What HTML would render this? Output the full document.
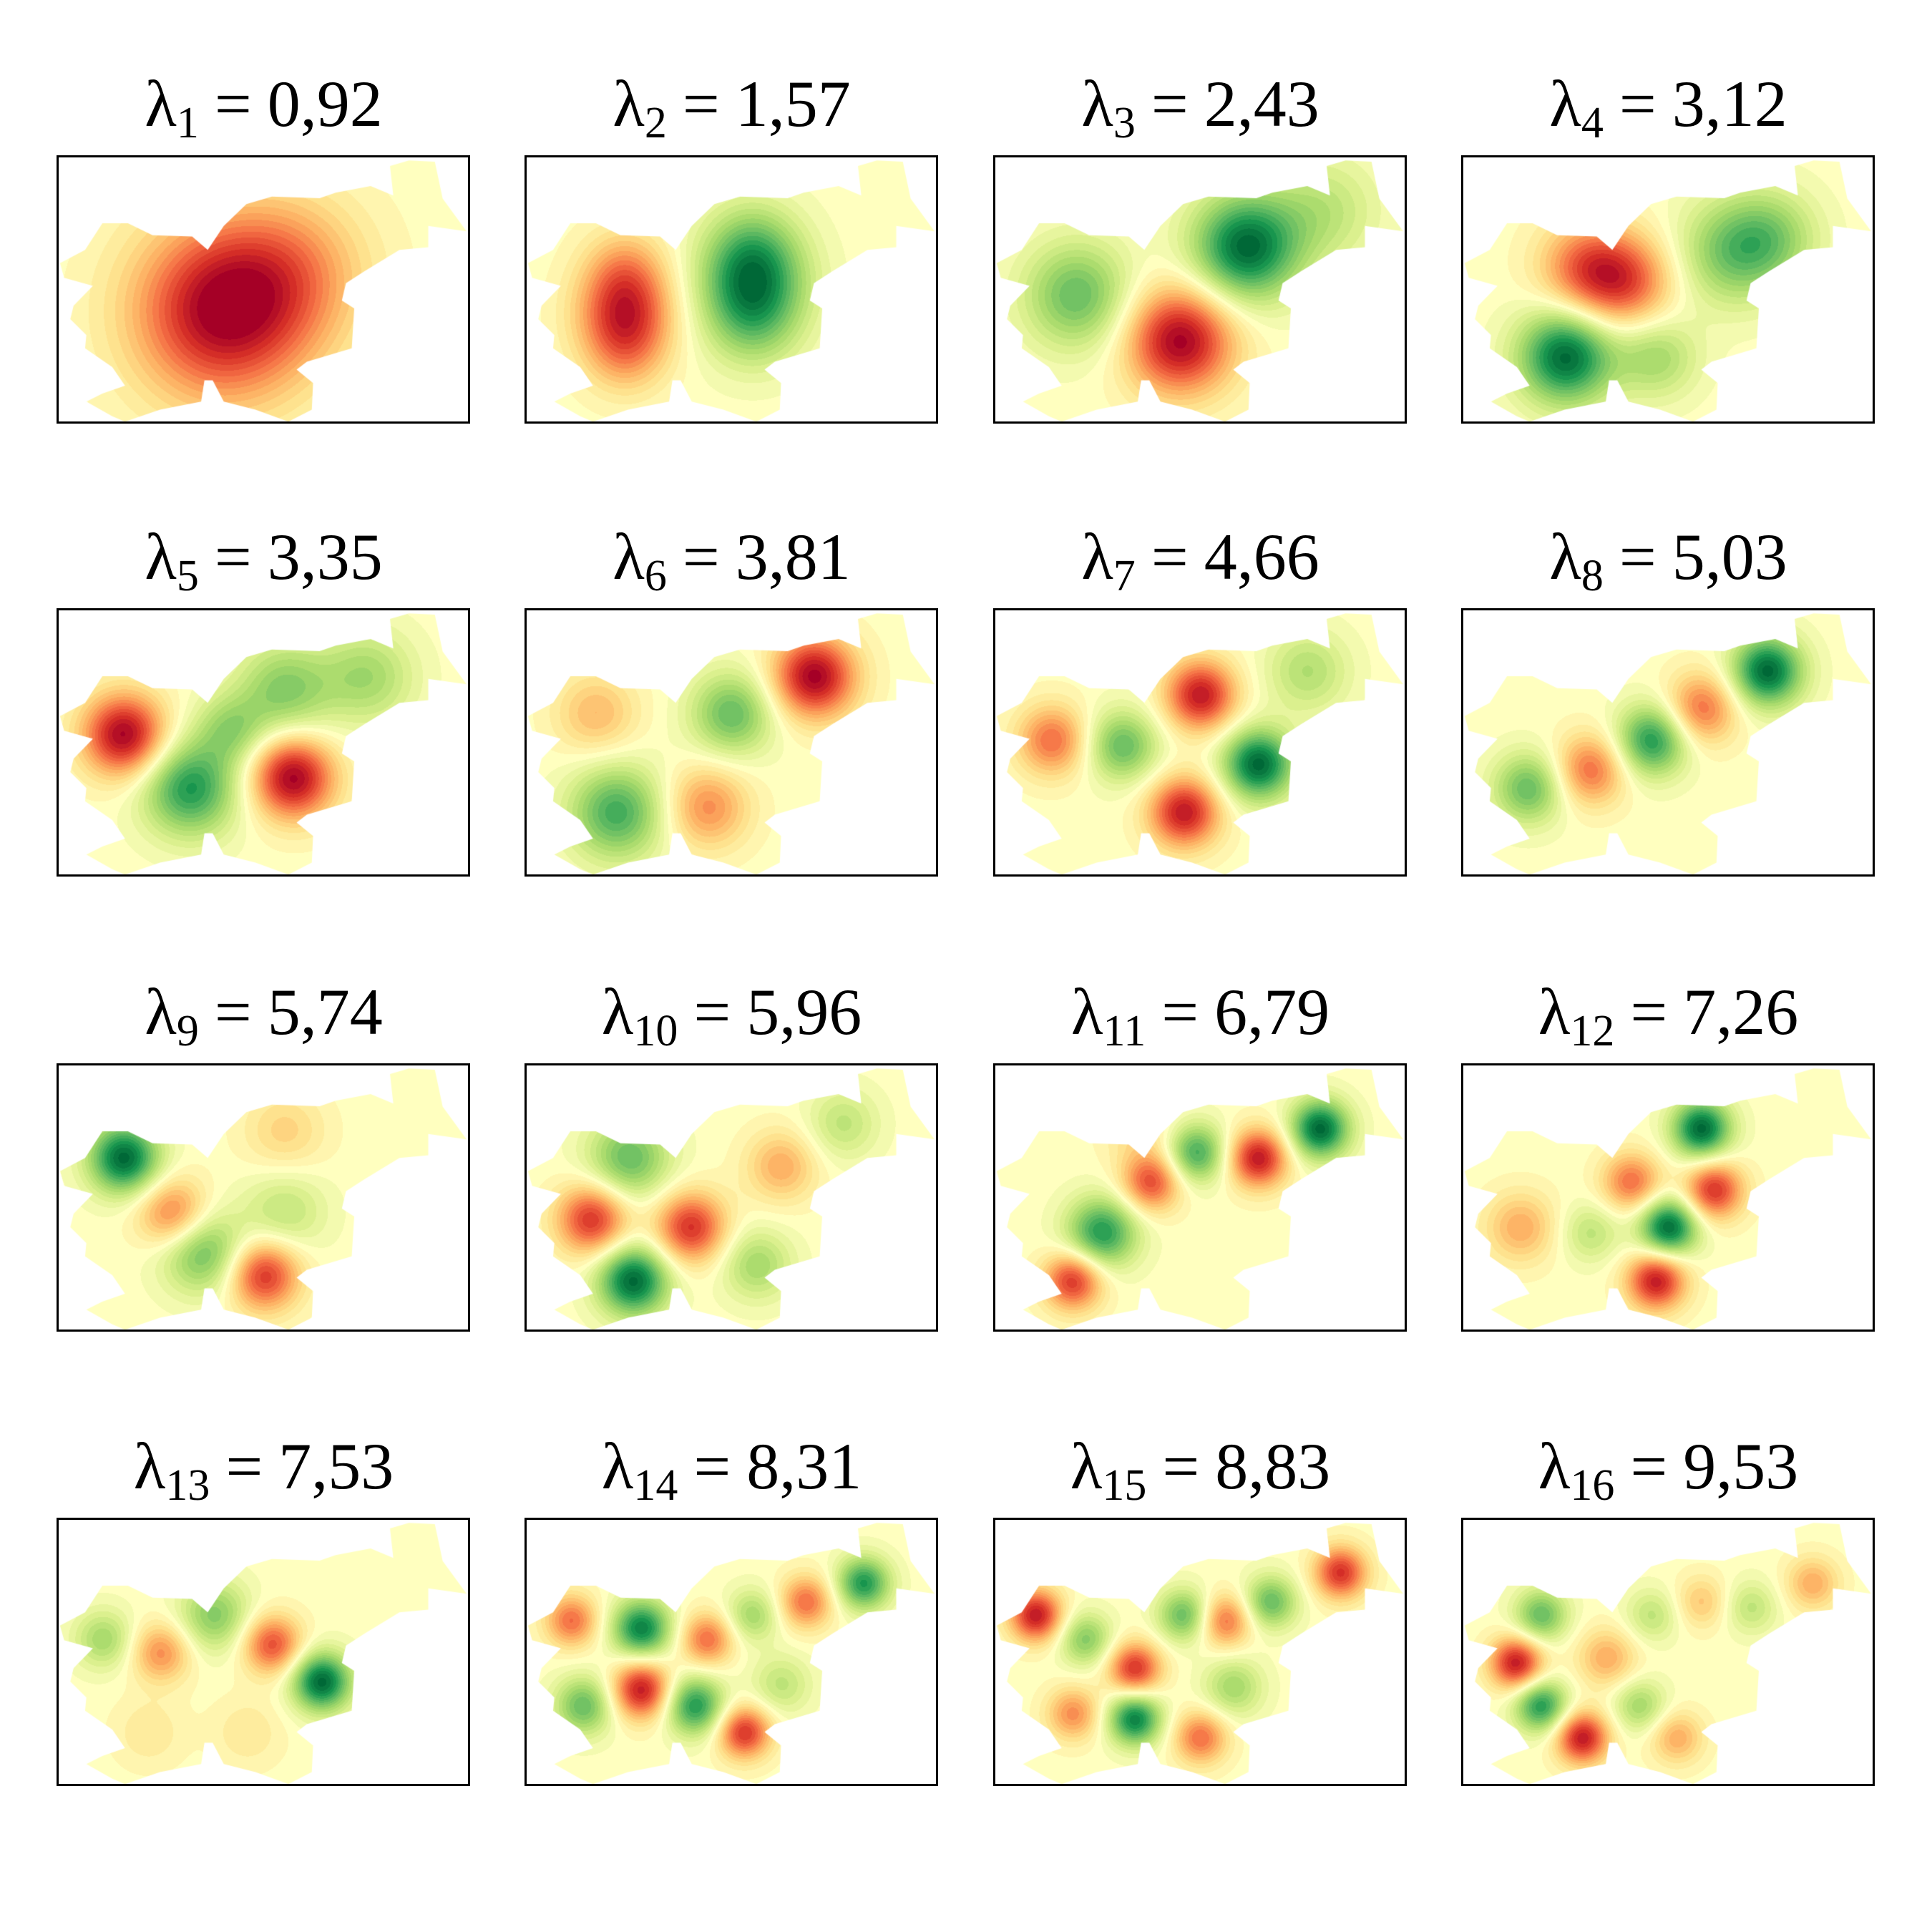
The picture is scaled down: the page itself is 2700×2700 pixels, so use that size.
<!DOCTYPE html>
<html><head><meta charset="utf-8">
<style>
html,body{margin:0;padding:0;background:#fff;}
#fig{position:relative;width:2700px;height:2700px;background:#fff;overflow:hidden;}
.title{position:absolute;width:575px;text-align:center;font-family:"Liberation Serif",serif;font-size:92px;line-height:92px;color:#000;white-space:nowrap;}
.title sub{font-size:62px;vertical-align:-16px;line-height:0;}
.title .eq{margin:0 22px;}
canvas{position:absolute;}
.frame{position:absolute;border:3px solid #000;box-sizing:border-box;width:578px;height:375px;}
</style></head>
<body>
<div id="fig"></div>
<script>
// eigenvalue labels
const eigenIndex = [1,2,3,4,5,6,7,8,9,10,11,12,13,14,15,16];
const eigenValues = ["0,92","1,57","2,43","3,12","3,35","3,81","4,66","5,03","5,74","5,96","6,79","7,26","7,53","8,31","8,83","9,53"];
// per-panel blob data (x,y normalized, amplitude: + red / - green, sigma as width fraction)
const blobX = [
 [0.40,0.57],
 [0.24,0.24,0.24,0.55,0.55,0.55],
 [0.61,0.45,0.20,0.80],
 [0.30,0.40,0.25,0.65,0.47,0.75],
 [0.16,0.32,0.57,0.55,0.75,0.42],
 [0.70,0.50,0.22,0.44,0.17],
 [0.14,0.31,0.50,0.64,0.46,0.76],
 [0.74,0.58,0.46,0.31,0.16],
 [0.16,0.28,0.35,0.50,0.55,0.55],
 [0.25,0.16,0.40,0.26,0.62,0.77,0.56],
 [0.79,0.64,0.49,0.38,0.26,0.19,0.35],
 [0.58,0.61,0.41,0.50,0.47,0.14,0.31],
 [0.64,0.52,0.38,0.25,0.11,0.22,0.46],
 [0.11,0.28,0.28,0.14,0.41,0.44,0.53,0.55,0.68,0.82,0.62],
 [0.10,0.22,0.34,0.34,0.19,0.50,0.46,0.56,0.67,0.84,0.58],
 [0.13,0.19,0.19,0.29,0.35,0.43,0.52,0.46,0.58,0.70,0.85]
];
const blobY = [
 [0.58,0.42],
 [0.59,0.42,0.75,0.48,0.33,0.64],
 [0.34,0.69,0.52,0.20],
 [0.42,0.47,0.75,0.36,0.75,0.30],
 [0.47,0.67,0.63,0.30,0.25,0.45],
 [0.25,0.39,0.76,0.74,0.39],
 [0.49,0.51,0.32,0.58,0.76,0.23],
 [0.23,0.37,0.49,0.60,0.67],
 [0.35,0.56,0.70,0.79,0.55,0.25],
 [0.35,0.58,0.61,0.81,0.38,0.22,0.75],
 [0.24,0.35,0.33,0.44,0.63,0.81,0.25],
 [0.24,0.47,0.44,0.61,0.81,0.61,0.63],
 [0.61,0.47,0.36,0.50,0.45,0.80,0.80],
 [0.38,0.41,0.64,0.70,0.70,0.45,0.80,0.36,0.31,0.24,0.62],
 [0.36,0.45,0.56,0.75,0.73,0.82,0.36,0.38,0.31,0.20,0.63],
 [0.54,0.36,0.70,0.82,0.52,0.70,0.82,0.36,0.31,0.33,0.24]
];
const blobAmp = [
 [1.0,0.35],
 [0.75,0.35,0.3,-0.75,-0.35,-0.3],
 [-1.0,1.0,-0.6,-0.3],
 [0.6,0.6,-1.0,-0.5,-0.4,-0.4],
 [1.0,-0.8,1.0,-0.5,-0.4,-0.4],
 [1.0,-0.6,-0.7,0.5,0.35],
 [0.6,-0.6,0.9,-1.0,0.9,-0.35],
 [-1.0,0.6,-0.8,0.6,-0.6],
 [-1.0,0.6,-0.6,0.8,-0.3,0.25],
 [-0.6,0.8,0.8,-1.0,0.4,-0.3,-0.4],
 [-1.0,0.9,-0.7,0.7,-0.8,0.8,0.2],
 [-1.0,0.8,0.6,-1.0,0.9,0.4,-0.3],
 [-1.0,0.7,-0.5,0.5,-0.4,0.15,0.15],
 [0.6,-0.9,0.9,-0.6,-0.8,0.6,0.8,-0.4,0.6,-0.8,-0.3],
 [0.9,-0.5,0.8,-0.9,0.5,0.6,-0.6,0.6,-0.6,0.8,-0.4],
 [0.9,-0.6,-0.8,0.9,0.4,-0.4,0.4,-0.3,0.3,-0.3,0.4]
];
const blobSigma = [
 [0.15,0.13],
 [0.08,0.07,0.07,0.09,0.08,0.08],
 [0.09,0.09,0.09,0.09],
 [0.08,0.08,0.08,0.09,0.07,0.08],
 [0.07,0.08,0.07,0.08,0.08,0.06],
 [0.07,0.07,0.08,0.07,0.07],
 [0.06,0.06,0.06,0.06,0.06,0.07],
 [0.06,0.06,0.06,0.06,0.06],
 [0.06,0.06,0.07,0.06,0.07,0.07],
 [0.07,0.06,0.06,0.06,0.06,0.06,0.06],
 [0.05,0.05,0.05,0.05,0.06,0.05,0.06],
 [0.05,0.05,0.05,0.05,0.05,0.06,0.05],
 [0.05,0.05,0.06,0.05,0.05,0.06,0.06],
 [0.045,0.05,0.05,0.05,0.05,0.045,0.045,0.045,0.045,0.045,0.05],
 [0.045,0.045,0.045,0.045,0.045,0.045,0.045,0.045,0.045,0.045,0.05],
 [0.045,0.045,0.045,0.045,0.05,0.045,0.045,0.045,0.045,0.045,0.045]
];
// country outline (normalized)
const outline = [[0.005,0.40],[0.066,0.35],[0.108,0.25],[0.17,0.25],[0.23,0.295],[0.326,0.30],[0.364,0.35],[0.403,0.26],[0.458,0.178],[0.52,0.15],[0.636,0.156],[0.675,0.135],[0.76,0.11],[0.815,0.146],[0.807,0.035],[0.853,0.014],[0.916,0.019],[0.935,0.157],[0.993,0.28],[0.9,0.26],[0.9,0.34],[0.83,0.35],[0.745,0.43],[0.70,0.475],[0.69,0.54],[0.72,0.57],[0.714,0.72],[0.605,0.77],[0.58,0.80],[0.62,0.85],[0.617,0.95],[0.56,0.995],[0.48,0.95],[0.403,0.92],[0.376,0.84],[0.356,0.84],[0.348,0.92],[0.248,0.95],[0.163,0.995],[0.132,0.975],[0.069,0.92],[0.108,0.89],[0.163,0.86],[0.132,0.79],[0.066,0.72],[0.069,0.67],[0.03,0.61],[0.038,0.56],[0.085,0.485],[0.015,0.455]];

const cmap = [[0,104,55],[26,152,80],[102,189,99],[166,217,106],[217,239,139],[255,255,191],[254,224,139],[253,174,97],[244,109,67],[215,48,39],[165,0,38]];
function color(v){
  v=Math.max(-1,Math.min(1,v));
  v=Math.round(v*16)/16;
  const t=(v+1)*5; const i=Math.min(9,Math.floor(t)); const f=t-i;
  const a=cmap[i],b=cmap[i+1];
  return [a[0]+(b[0]-a[0])*f,a[1]+(b[1]-a[1])*f,a[2]+(b[2]-a[2])*f];
}
const colX=[81,735,1390,2044], rowY=[219,852,1488,2123];
const W=575,H=372;
const fig=document.getElementById('fig');
for(let k=0;k<16;k++){
  const px=colX[k%4], py=rowY[Math.floor(k/4)];
  const t=document.createElement('div');
  
  
  t.className='title';
  t.style.left=px+'px'; t.style.top=(py-120)+'px';
  t.innerHTML='λ<sub>'+eigenIndex[k]+'</sub><span class="eq">=</span>'+eigenValues[k];
  fig.appendChild(t);
  const off=document.createElement('canvas'); off.width=W; off.height=H;
  const octx=off.getContext('2d'); const img=octx.createImageData(W,H);
  const bx=blobX[k],by=blobY[k],ba=blobAmp[k],bs=blobSigma[k];
  for(let y=0;y<H;y++){for(let x=0;x<W;x++){
    let v=0;
    for(let j=0;j<bx.length;j++){
      const dx=(x-bx[j]*W), dy=(y-by[j]*H), s=bs[j]*W;
      v+=ba[j]*Math.exp(-(dx*dx+dy*dy)/(2*s*s));
    }
    const c=color(v); const o=(y*W+x)*4;
    img.data[o]=c[0];img.data[o+1]=c[1];img.data[o+2]=c[2];img.data[o+3]=255;
  }}
  octx.putImageData(img,0,0);
  const cv=document.createElement('canvas'); cv.width=W; cv.height=H;
  
  
  cv.style.left=px+'px'; cv.style.top=py+'px';
  const ctx=cv.getContext('2d');
  ctx.beginPath();
  outline.forEach((p,i)=>{const X=p[0]*W,Y=p[1]*H; if(i)ctx.lineTo(X,Y); else ctx.moveTo(X,Y);});
  ctx.closePath(); ctx.clip(); ctx.drawImage(off,0,0);
  fig.appendChild(cv);
  const fr=document.createElement('div');
  
  
  fr.className='frame'; fr.style.left=(px-2)+'px'; fr.style.top=(py-2)+'px';
  fig.appendChild(fr);
}
</script>
</body></html>
